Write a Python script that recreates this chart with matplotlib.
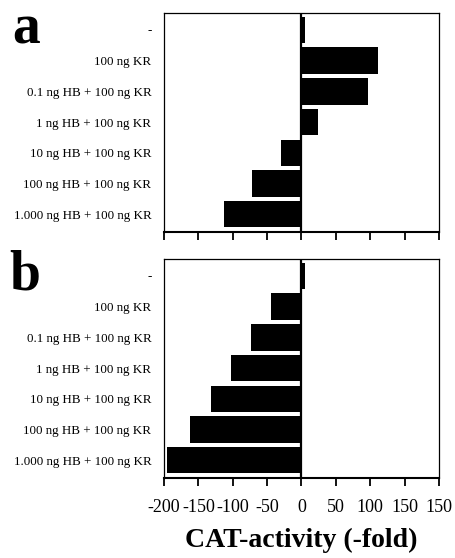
import matplotlib.pyplot as plt

# conditions (top to bottom)
conditions = [
    "-",
    "100 ng KR",
    "0.1 ng HB + 100 ng KR",
    "1 ng HB + 100 ng KR",
    "10 ng HB + 100 ng KR",
    "100 ng HB + 100 ng KR",
    "1.000 ng HB + 100 ng KR",
]

# CAT-activity (-fold)
activity_a = [5, 112, 97, 24, -30, -72, -112]
activity_b = [5, -44, -73, -103, -132, -162, -195]

x_ticks = [-200, -150, -100, -50, 0, 50, 100, 150, 200]
x_tick_labels = ["-200", "-150", "-100", "-50", "0", "50", "100", "150", "150"]

plt.rcParams["font.family"] = ["Liberation Serif", "DejaVu Serif"]

fig = plt.figure(figsize=(4.56, 5.58), dpi=100)
ax_a = fig.add_axes([0.3596, 0.5842, 0.6031, 0.3925])
ax_b = fig.add_axes([0.3596, 0.1434, 0.6031, 0.3925])

for ax, values, letter in [(ax_a, activity_a, "a"), (ax_b, activity_b, "b")]:
    ypos = list(range(len(conditions)))
    ax.barh(ypos, values, height=0.86, color="black")
    ax.axvline(0, color="black", linewidth=1.6)
    ax.set_xlim(-200, 200)
    ax.set_ylim(6.58, -0.55)
    ax.set_yticks(ypos)
    ax.set_yticklabels(conditions, fontsize=9.4)
    ax.tick_params(axis="y", length=0, pad=9)
    ax.set_xticks(x_ticks)
    ax.tick_params(axis="x", direction="out", length=6, width=1.3, pad=9)
    for side in ["left", "top", "right"]:
        ax.spines[side].set_linewidth(0.9)
    ax.spines["bottom"].set_linewidth(1.5)
    ax.text(-0.45, 0.86, letter, transform=ax.transAxes, fontsize=40,
            fontweight="bold", ha="right", va="baseline")

ax_a.set_xticklabels([])
ax_b.set_xticklabels(x_tick_labels, fontsize=13)
ax_b.set_xlabel("CAT-activity (-fold)", fontsize=20, fontweight="bold", labelpad=9)

fig.savefig("out.png", dpi=100)
